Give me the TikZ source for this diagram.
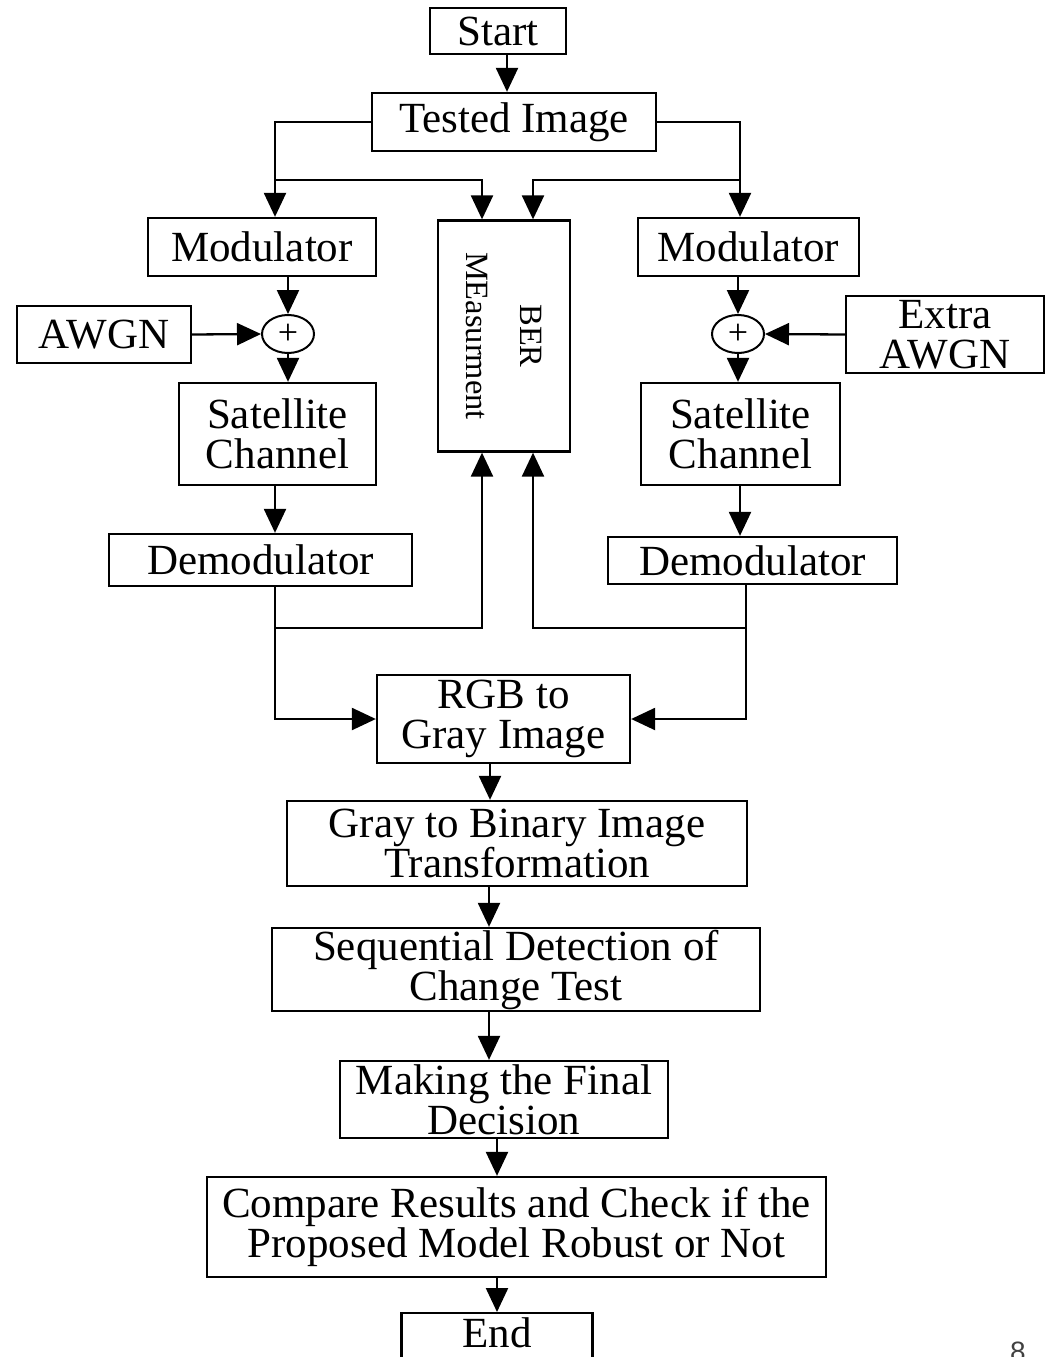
\documentclass[tikz,border=0pt]{standalone}
\usepackage{fontspec}
\setmainfont{Liberation Serif}
\newfontfamily\pagenumfont{Liberation Sans}
\usepackage{graphicx}
\usetikzlibrary{arrows.meta,shapes.geometric}
\begin{document}
\begin{tikzpicture}[x=1pt,y=1pt,
  box/.style={draw, line width=2.3pt, inner sep=0pt, align=center, font=\fontsize{43}{40}\selectfont},
  sumnode/.style={draw, ellipse, line width=2pt, inner sep=0pt, minimum width=52pt, minimum height=38pt, font=\fontsize{36}{36}\selectfont},
  arr/.style={line width=2.3pt, -{Triangle[length=24pt,width=22pt]}}]
\useasboundingbox (0,0) rectangle (1046,-1357);
\clip (0,0) rectangle (1046,-1357);
% helper coordinates
\coordinate (x275) at (275,0);
\coordinate (x288) at (288,0);
\coordinate (x482) at (482,0);
\coordinate (x489) at (489,0);
\coordinate (x490) at (490,0);
\coordinate (x497) at (497,0);
\coordinate (x507) at (507,0);
\coordinate (x533) at (533,0);
\coordinate (x738) at (738,0);
\coordinate (x740) at (740,0);
\coordinate (x746) at (746,0);
\coordinate (y180) at (0,-180);
\coordinate (y628) at (0,-628);
% nodes
\node[box, minimum width=136pt, minimum height=46pt] (start) at (498,-31) {Start};
\node[box, minimum width=284pt, minimum height=58pt] (tested) at (514,-122) {Tested Image};
\node[box, minimum width=132pt, minimum height=231pt] (ber) at (504,-336)
  {\rotatebox{-90}{\fontsize{32.5}{54}\selectfont\begin{tabular}{@{}c@{}}BER\\MEasurment\end{tabular}}};
\node[box, minimum width=228pt, minimum height=58pt] (mod1) at (262,-247) {Modulator};
\node[box, minimum width=221pt, minimum height=58pt] (mod2) at (748.5,-247) {Modulator};
\node[sumnode] (sum1) at (288,-334) {+};
\node[sumnode] (sum2) at (738,-334) {+};
\node[box, minimum width=174pt, minimum height=57pt] (awgn) at (104,-334.5) {AWGN};
\node[box, minimum width=198pt, minimum height=77pt] (extra) at (945,-334.5) {Extra\\AWGN};
\node[box, minimum width=197pt, minimum height=102pt] (sat1) at (277.5,-434) {Satellite\\Channel};
\node[box, minimum width=199pt, minimum height=102pt] (sat2) at (740.5,-434) {Satellite\\Channel};
\node[box, minimum width=303pt, minimum height=52pt] (demod1) at (260.5,-560) {Demodulator};
\node[box, minimum width=289pt, minimum height=47pt] (demod2) at (752.5,-560.5) {Demodulator};
\node[box, minimum width=253pt, minimum height=88pt] (rgb) at (503.5,-719) {RGB to\\Gray Image};
\node[box, minimum width=460pt, minimum height=85pt] (gray) at (517,-843.5) {Gray to Binary Image\\Transformation};
\node[box, minimum width=488pt, minimum height=83pt] (seq) at (516,-969.5) {Sequential Detection of\\Change Test};
\node[box, minimum width=328pt, minimum height=77pt] (make) at (504,-1099.5) {Making the Final\\Decision};
\node[box, minimum width=619pt, minimum height=100pt] (comp) at (516.5,-1227) {Compare Results and Check if the\\Proposed Model Robust or Not};
\node[box, anchor=north, minimum width=191pt, text height=34pt, text depth=50pt] (endbox) at (497,-1312) {End};
\node[anchor=north, inner sep=0pt, font=\fontsize{28}{28}\pagenumfont, text=black!75] (pg) at (1018,-1342) {8};
% connectors
\draw[arr] (x507 |- start.south) -- (x507 |- tested.north);
\draw[arr] (tested.west) -| (x275 |- mod1.north);
\draw[arr] (x275 |- y180) -| (x482 |- ber.north);
\draw[arr] (tested.east) -| (x740 |- mod2.north);
\draw[arr] (x740 |- y180) -| (x533 |- ber.north);
\draw[arr] (x288 |- mod1.south) -- (sum1.north);
\draw[arr] (awgn.east) -- (sum1.west);
\draw[arr] (sum1.south) -- (x288 |- sat1.north);
\draw[arr] (x275 |- sat1.south) -- (x275 |- demod1.north);
\draw[arr] (x275 |- demod1.south) |- (rgb.west);
\draw[arr] (x275 |- y628) -| (x482 |- ber.south);
\draw[arr] (x738 |- mod2.south) -- (sum2.north);
\draw[arr] (extra.west) -- (sum2.east);
\draw[arr] (sum2.south) -- (x738 |- sat2.north);
\draw[arr] (x740 |- sat2.south) -- (x740 |- demod2.north);
\draw[arr] (x746 |- demod2.south) |- (rgb.east);
\draw[arr] (x746 |- y628) -| (x533 |- ber.south);
\draw[arr] (x490 |- rgb.south) -- (x490 |- gray.north);
\draw[arr] (x489 |- gray.south) -- (x489 |- seq.north);
\draw[arr] (x489 |- seq.south) -- (x489 |- make.north);
\draw[arr] (x497 |- make.south) -- (x497 |- comp.north);
\draw[arr] (x497 |- comp.south) -- (x497 |- endbox.north);
\end{tikzpicture}
\end{document}
